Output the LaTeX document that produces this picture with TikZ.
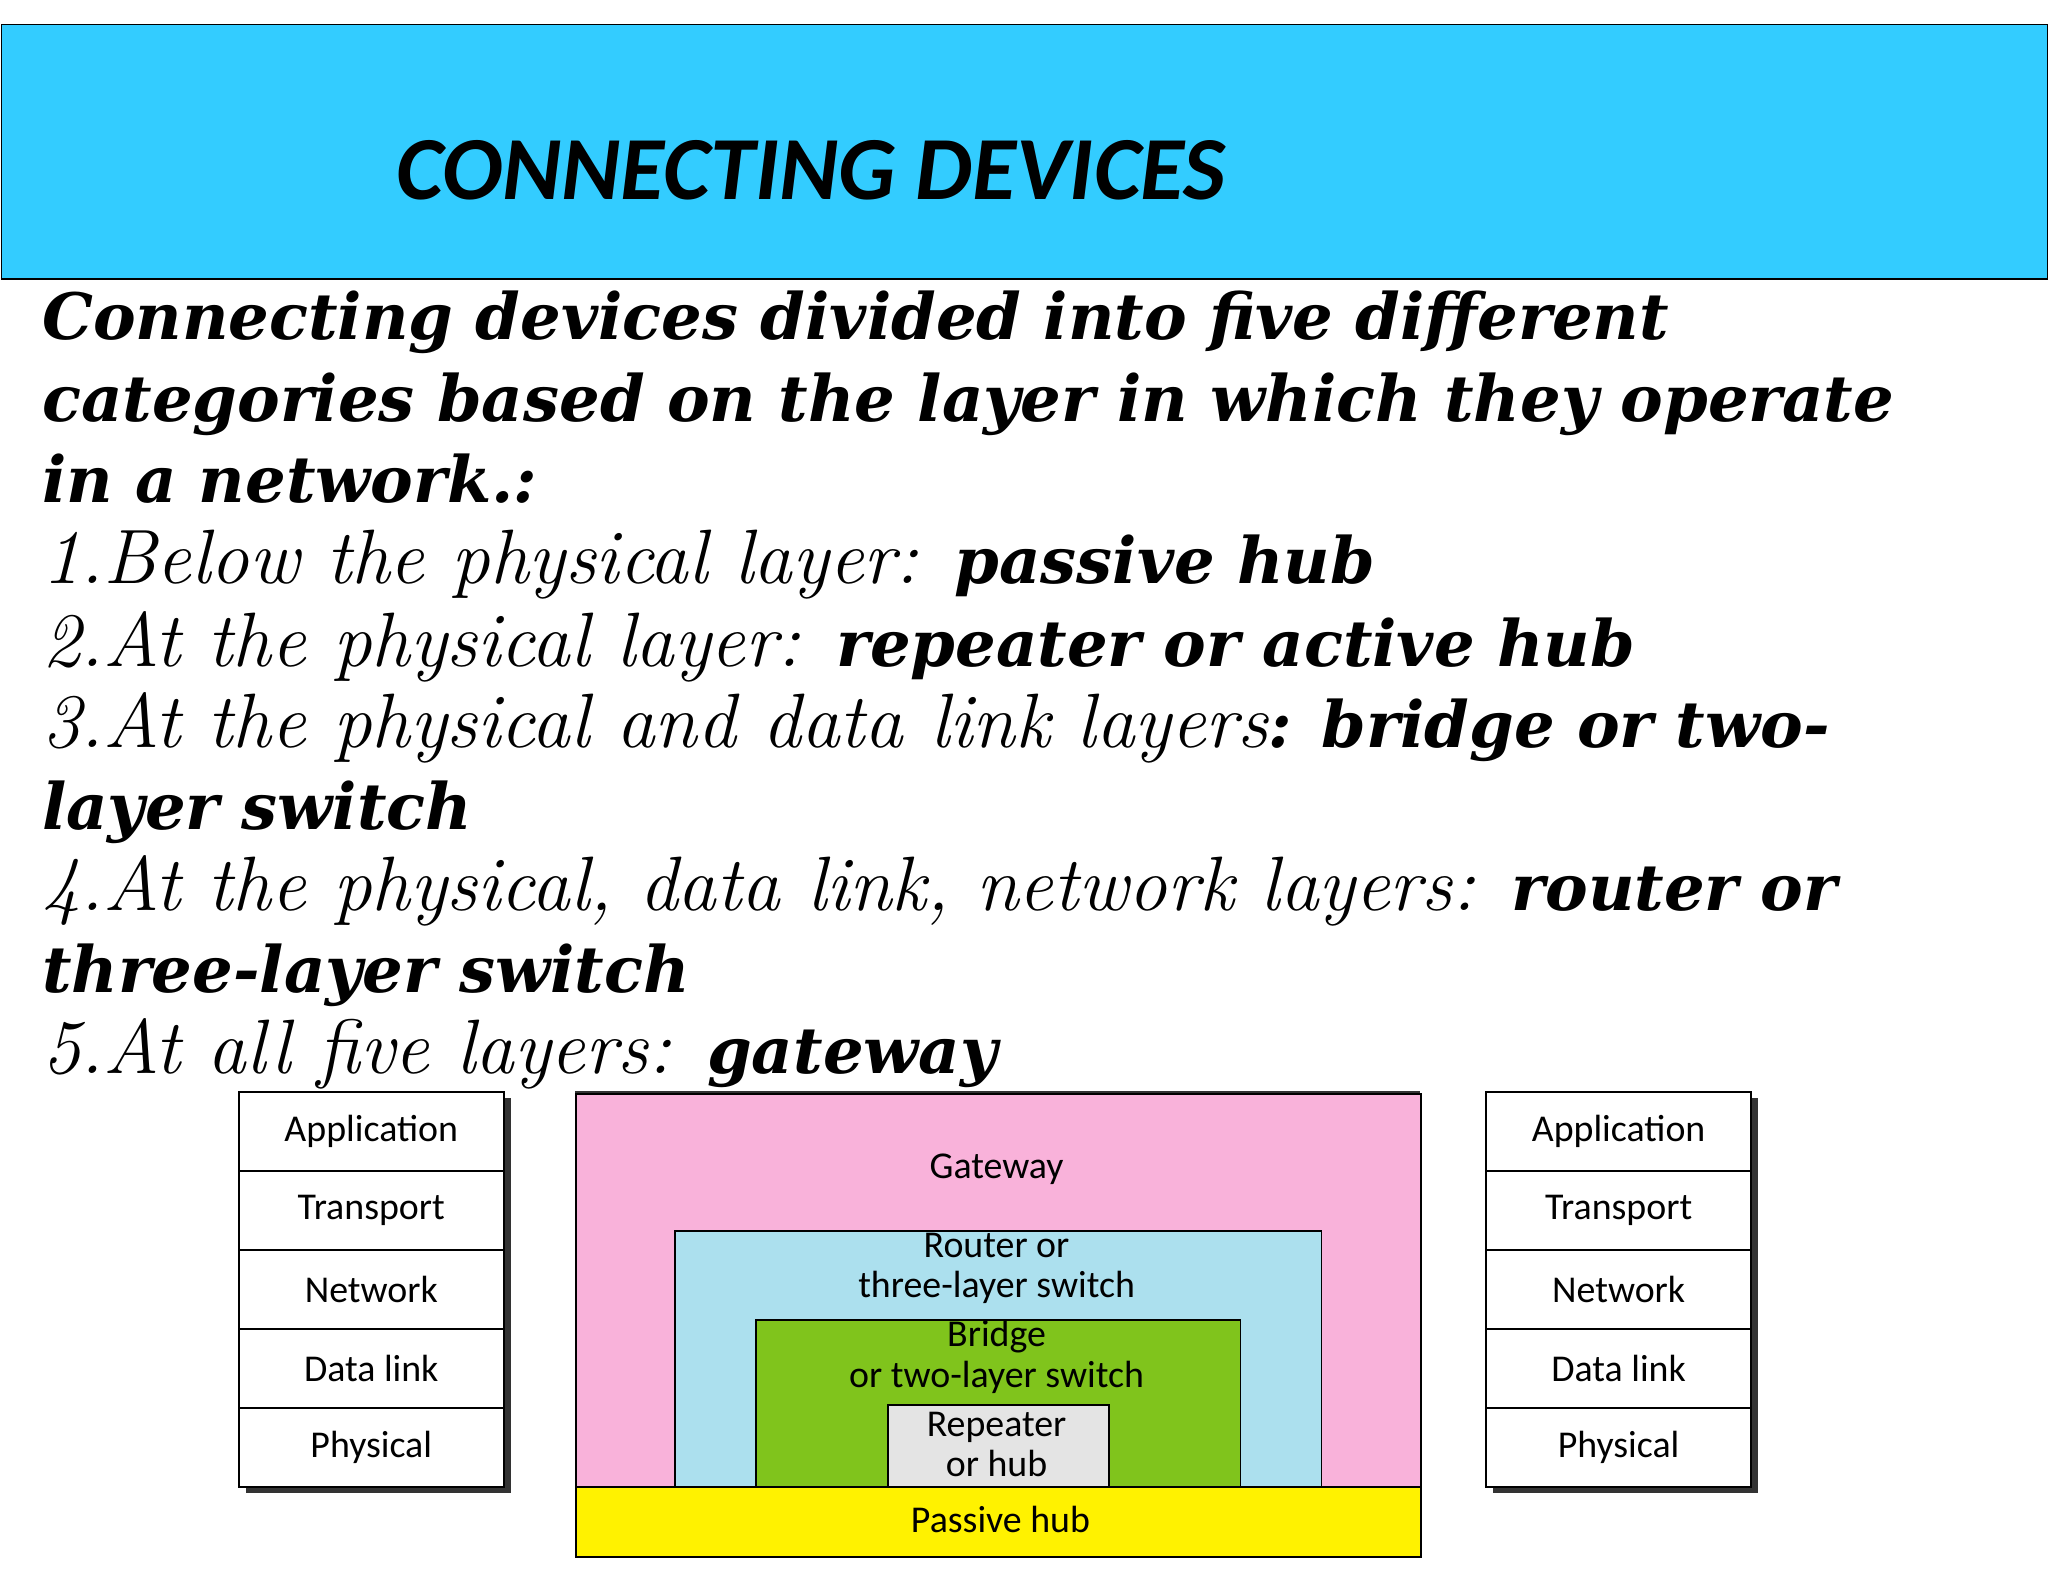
\documentclass[tikz,border=0pt]{standalone}
\usepackage{fontspec}
\setsansfont{Carlito}
\newfontfamily\heavy{DejaVu Serif}
\begin{document}
\begin{tikzpicture}[x=1pt,y=-1pt,
  lay/.style={draw,line width=1.5pt,fill=white,minimum width=203pt,minimum height=60.5pt,font=\sffamily\fontsize{29}{31}\selectfont,anchor=north west},
  lbl/.style={font=\sffamily\fontsize{29}{31}\selectfont,align=center},
  txt/.style={anchor=base west,inner sep=0pt,font=\fontsize{59}{60}\selectfont}]
\useasboundingbox (0,0) rectangle (1568,1211);
\fill[white] (0,0) rectangle (1568,1211);
\node[draw,line width=1.2pt,fill={rgb,255:red,51;green,204;blue,255},minimum width=1567pt,minimum height=195pt,anchor=north west,inner sep=0pt] (hdr) at (0.5,18) {};
\node[font=\sffamily\bfseries\itshape\fontsize{69}{72}\selectfont] (title) at (621,130) {CONNECTING DEVICES};
\newcommand\hv[1]{{\heavy\bfseries\itshape\fontsize{49}{50}\selectfont #1}}
\node[txt] (l1) at (32,260) {\hv{Connecting devices divided into five different}};
\node[txt] (l2) at (32,323) {\hv{categories based on the layer in which they operate}};
\node[txt] (l3) at (32,385) {\hv{in a network.:}};
\node[txt] (l4) at (32,447) {\itshape 1.Below the physical layer: \hv{passive hub}};
\node[txt] (l5) at (32,510) {\itshape 2.At the physical layer: \hv{repeater or active hub}};
\node[txt] (l6) at (32,572) {\itshape 3.At the physical and data link layers\hv{: bridge or two-}};
\node[txt] (l7) at (32,635) {\hv{layer switch}};
\node[txt] (l8) at (32,697) {\itshape 4.At the physical, data link, network layers: \hv{router or}};
\node[txt] (l9) at (32,760) {\hv{three-layer switch}};
\node[txt] (l10) at (32,822) {\itshape 5.At all five layers: \hv{gateway}};
% stacks
\foreach \x/\p in {182/L,1137/R}{
  \fill[black!80] (\x+6,841) rectangle (\x+209,1143);
  \foreach \n/\t [count=\i from 0] in {a/Application,t/Transport,n/Network,d/Data link,p/Physical}
    \node[lay] (\p\n) at (\x,835+60.5*\i) {\t};
}
% center
\fill[black!80] (440,835) rectangle (1087,1191);
\node[draw,line width=1.5pt,fill={rgb,255:red,249;green,178;blue,218},minimum width=647pt,minimum height=301pt,anchor=north west,inner sep=0pt] (gw) at (440,837) {};
\node[draw,line width=1.5pt,fill={rgb,255:red,172;green,224;blue,238},minimum width=495pt,minimum height=196pt,anchor=north west,inner sep=0pt] (rt) at (516,942) {};
\node[draw,line width=1.5pt,fill={rgb,255:red,128;green,196;blue,28},minimum width=371pt,minimum height=128pt,anchor=north west,inner sep=0pt] (br) at (578,1010) {};
\node[draw,line width=1.5pt,fill={rgb,255:red,228;green,228;blue,228},minimum width=169pt,minimum height=63pt,anchor=north west,inner sep=0pt] (rp) at (679,1075) {};
\node[draw,line width=1.5pt,fill=yellow,minimum width=647pt,minimum height=53pt,anchor=north west,inner sep=0pt] (ph) at (440,1138) {};
\node[lbl] at (763,895) {Gateway};
\node[lbl] at (763,971) {Router or\\three-layer switch};
\node[lbl] at (763,1039) {Bridge\\or two-layer switch};
\node[lbl] at (763,1106) {Repeater\\or hub};
\node[lbl] at (766,1163) {Passive hub};
\end{tikzpicture}
\end{document}
